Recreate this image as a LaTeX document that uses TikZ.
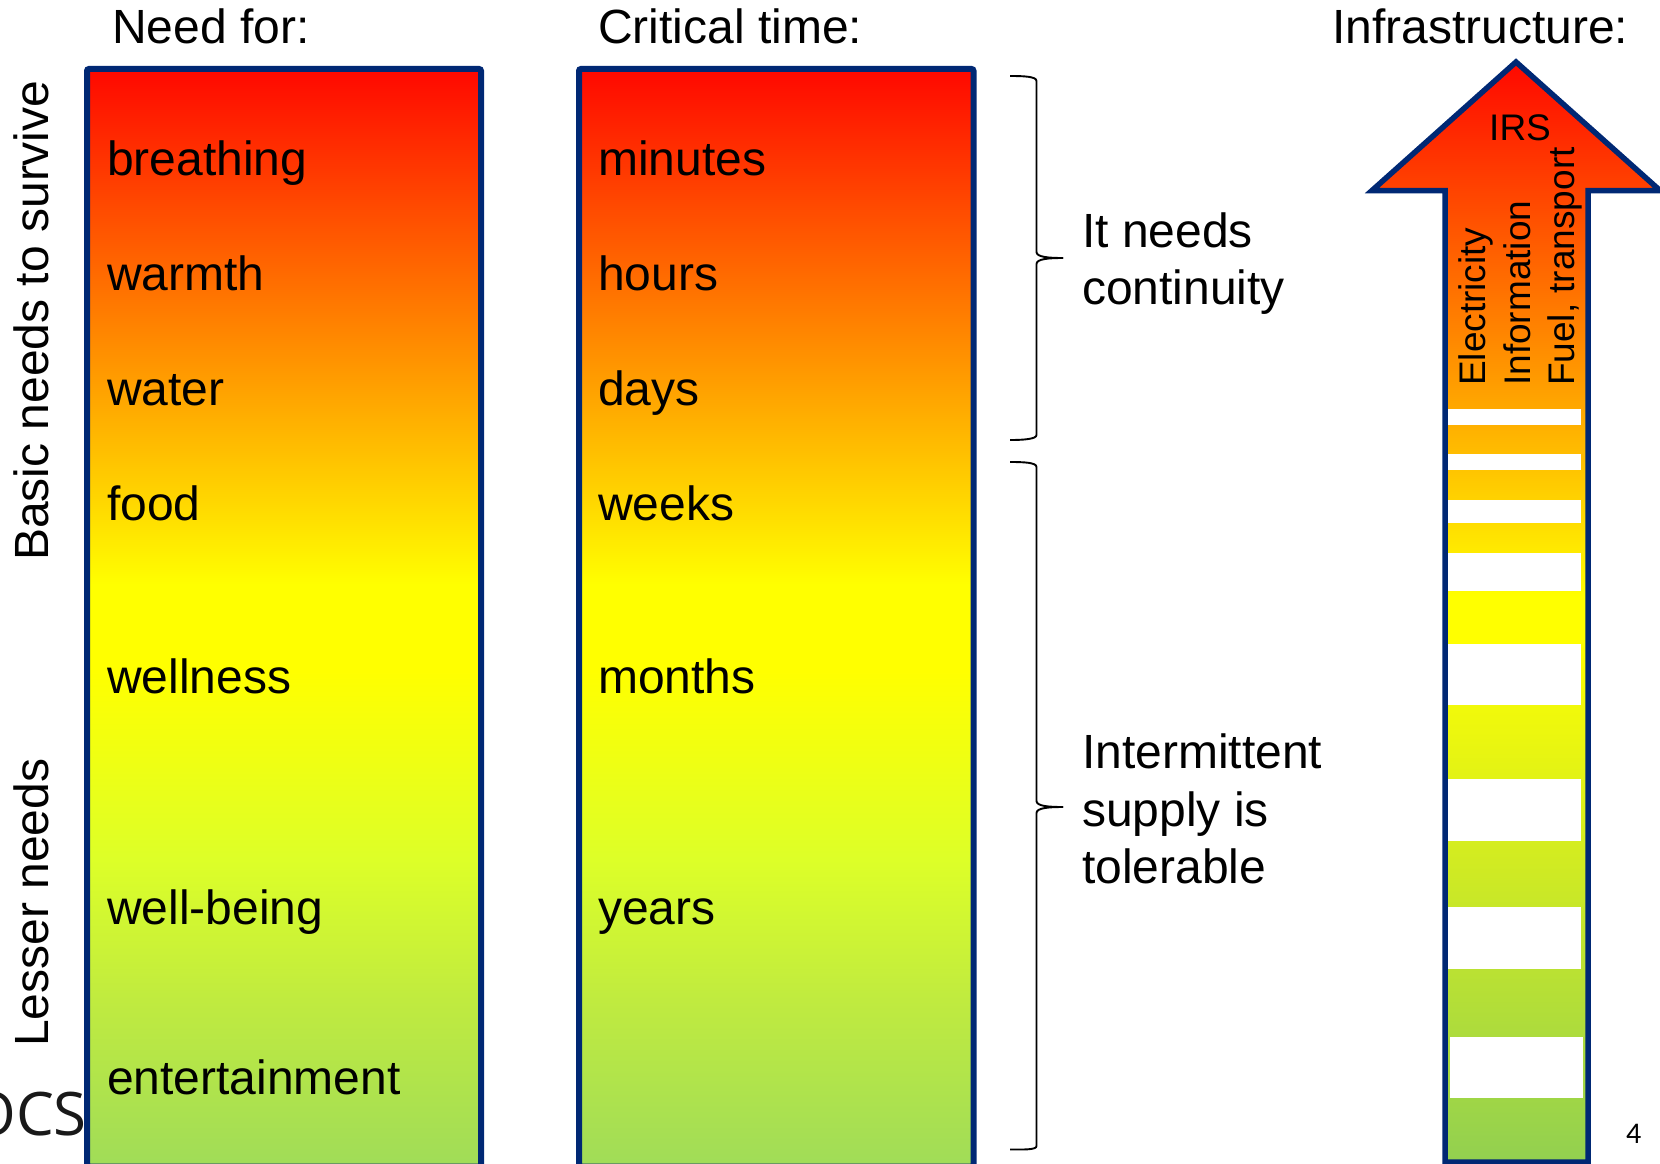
\documentclass[tikz,border=0pt]{standalone}
\usepackage{fontspec}
\setmainfont{Liberation Sans}
\newfontfamily\logofont{Open Sans}
\newfontfamily\pagefont{Carlito}
\definecolor{rimblue}{HTML}{002874}
\definecolor{gradred}{HTML}{FF0800}
\definecolor{gradyellow}{HTML}{FFFF00}
\definecolor{gradgreen}{HTML}{92D050}
\definecolor{panelgreen}{HTML}{A0DC58}
\definecolor{panellime}{HTML}{C0EB3F}
\definecolor{panellemon}{HTML}{DDFF28}
\pgfdeclareverticalshading{panelshade}{100bp}{
  color(0bp)=(panelgreen); color(25bp)=(panelgreen); color(32.6bp)=(panellime);
  color(39bp)=(panellemon); color(47.6bp)=(gradyellow); color(51.5bp)=(gradyellow);
  color(75bp)=(gradred); color(100bp)=(gradred)}
\pgfdeclareverticalshading{arrowshade}{100bp}{
  color(0bp)=(gradgreen); color(25bp)=(gradgreen); color(48.7bp)=(gradyellow);
  color(50.7bp)=(gradyellow); color(75bp)=(gradred); color(100bp)=(gradred)}
\tikzset{
  x=1pt,y=-1pt,
  gradpanel/.style={draw=rimblue,line width=6pt,rounded corners=2pt,shading=panelshade},
  gradarrow/.style={draw=rimblue,line width=5.5pt,miter limit=10,shading=arrowshade},
  bigtext/.style={inner sep=0pt,anchor=base west,font=\fontsize{48}{58}\selectfont},
  smalltext/.style={inner sep=0pt,anchor=base west,font=\fontsize{37}{44}\selectfont},
  sidetext/.style={bigtext,rotate=90},
  gap/.style={fill=white,draw=none},
  bracket/.style={draw=black,line width=1.9pt},
}
\begin{document}
\begin{tikzpicture}
\useasboundingbox (0,0) rectangle (1660,1164);
\node[anchor=base east,inner sep=0pt,font=\logofont\fontsize{60}{60}\selectfont,text=black!90] (logo) at (87,1135) {OCS};
\path[gradpanel] (87,69) rectangle (481,1166.5);
\path[gradpanel] (579,69) rectangle (973.5,1166.5);
\path[gradarrow] (1445,1162) -- (1445,190.5) -- (1372,190.5) -- (1516,62) -- (1660,190.5) -- (1588,190.5) -- (1588,1162) -- cycle;
\foreach \ya/\yb in {409/425,454/470,500/523,553/591,644/705,779/841,907/969}
  \fill[gap] (1448,\ya) rectangle (1581,\yb);
\fill[gap] (1450,1037) rectangle (1583,1098);
% brace 1
\draw[bracket] (1010,76) .. controls (1024,76) and (1036.5,76.5) .. (1036.5,81) -- (1036.5,252) .. controls (1036.5,257) and (1048,258) .. (1063,258);
\draw[bracket] (1063,258) .. controls (1048,258) and (1036.5,259) .. (1036.5,264) -- (1036.5,435) .. controls (1036.5,439) and (1024,440) .. (1010,440);
% brace 2
\draw[bracket] (1010,462) .. controls (1024,462) and (1036.5,462.5) .. (1036.5,467) -- (1036.5,801) .. controls (1036.5,806) and (1048,807) .. (1063,807);
\draw[bracket] (1063,807) .. controls (1048,807) and (1036.5,808) .. (1036.5,813) -- (1036.5,1146) .. controls (1036.5,1150) and (1024,1149.5) .. (1010,1149.5);
% headings
\node[bigtext] (h1) at (112,43.5) {Need for:};
\node[bigtext] (h2) at (598,43.5) {Critical time:};
\node[bigtext] (h3) at (1332,43.5) {Infrastructure:};
% side
\node[sidetext] (s1) at (48.7,561) {Basic needs to survive};
\node[sidetext] (s2) at (48.7,1047) {Lesser needs};
% need
\node[bigtext] (n1) at (107,175.7) {breathing};
\node[bigtext] (n2) at (107,290) {warmth};
\node[bigtext] (n3) at (107,405.5) {water};
\node[bigtext] (n4) at (107,520) {food};
\node[bigtext] (n5) at (107,693) {wellness};
\node[bigtext] (n6) at (107,924) {well-being};
\node[bigtext] (n7) at (107,1094.5) {entertainment};
% time
\node[bigtext] (t1) at (598,175.7) {minutes};
\node[bigtext] (t2) at (598,290) {hours};
\node[bigtext] (t3) at (598,405.5) {days};
\node[bigtext] (t4) at (598,520) {weeks};
\node[bigtext] (t5) at (598,693) {months};
\node[bigtext] (t6) at (598,924) {years};
% braces labels
\node[bigtext] (b1) at (1082,247) {It needs};
\node[bigtext] (b2) at (1082,304) {continuity};
\node[bigtext] (b3) at (1082,768.5) {Intermittent};
\node[bigtext] (b4) at (1082,826) {supply is};
\node[bigtext] (b5) at (1082,883) {tolerable};
% arrow text
\node[smalltext] (a0) at (1489,140) {IRS};
\node[smalltext,rotate=90] (a1) at (1485,386) {Electricity};
\node[smalltext,rotate=90] (a2) at (1530,386) {Information};
\node[smalltext,rotate=90] (a3) at (1574,386) {Fuel, transport};
\node[anchor=base west,inner sep=0pt,font=\pagefont\fontsize{30}{30}\selectfont] (pg) at (1626,1143) {4};
\end{tikzpicture}
\end{document}
